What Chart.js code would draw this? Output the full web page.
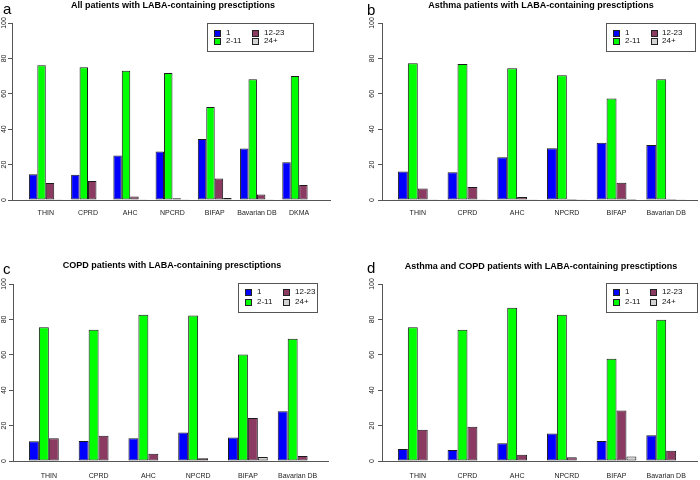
<!DOCTYPE html>
<html><head><meta charset="utf-8">
<script src="https://cdn.jsdelivr.net/npm/chart.js@4"></script>
<style>
body{margin:0;width:700px;height:480px;background:#fff;position:relative;overflow:hidden;font-family:'Liberation Sans',Arial,sans-serif}
canvas{position:absolute}
.t{position:absolute;font-weight:bold;font-size:9px;line-height:11px;white-space:nowrap;transform:translateX(-50%);color:#000}
.l{position:absolute;font-size:15px;line-height:15px;color:#000}
</style></head><body>
<canvas id="ca" width="350" height="240" style="left:0;top:0"></canvas>
<canvas id="cb" width="350" height="240" style="left:350px;top:0"></canvas>
<canvas id="cc" width="350" height="240" style="left:0;top:240px"></canvas>
<canvas id="cd" width="350" height="240" style="left:350px;top:240px"></canvas>
<div class="l" style="left:3px;top:1px">a</div>
<div class="l" style="left:367px;top:2px">b</div>
<div class="l" style="left:3px;top:261px">c</div>
<div class="l" style="left:367px;top:260px">d</div>
<div class="t" style="left:173px;top:0px">All patients with LABA-containing presctiptions</div>
<div class="t" style="left:541px;top:0px">Asthma patients with LABA-containing presctiptions</div>
<div class="t" style="left:172px;top:260px">COPD patients with LABA-containing presctiptions</div>
<div class="t" style="left:541px;top:261px">Asthma and COPD patients with LABA-containing presctiptions</div>
<script>
const seriesNames = ['1', '2-11', '12-23', '24+'];
const catsA = ['THIN', 'CPRD', 'AHC', 'NPCRD', 'BIFAP', 'Bavarian DB', 'DKMA'];
const catsBCD = ['THIN', 'CPRD', 'AHC', 'NPCRD', 'BIFAP', 'Bavarian DB'];
const yTicks = [0, 20, 40, 60, 80, 100];

// a: All patients
const a1 = [14.6, 14.3, 25.2, 27.4, 34.4, 29.1, 21.3];
const a2 = [76.2, 75.0, 73.0, 71.8, 52.6, 68.2, 70.1];
const a3 = [9.6, 10.7, 2.0, 1.0, 12.2, 3.1, 8.5];
const a4 = [0.4, 0.3, 0.4, 0.1, 1.1, 0.1, 0.3];
// b: Asthma patients
const b1 = [16.1, 15.7, 24.1, 29.2, 32.4, 31.1];
const b2 = [77.3, 76.9, 74.5, 70.5, 57.3, 68.2];
const b3 = [6.5, 7.4, 1.7, 0.6, 9.8, 0.6];
const b4 = [0.1, 0.1, 0.1, 0.1, 0.5, 0.1];
// c: COPD patients
const c1 = [11.1, 11.3, 12.8, 16.1, 13.3, 28.1];
const c2 = [75.6, 74.1, 82.6, 82.2, 60.1, 69.0];
const c3 = [12.8, 14.3, 4.1, 1.5, 24.3, 2.8];
const c4 = [0, 0, 0, 0, 2.2, 0];
// d: Asthma and COPD patients
const d1 = [6.8, 6.2, 10.0, 15.5, 11.3, 14.5];
const d2 = [75.6, 74.1, 86.6, 82.6, 57.8, 79.8];
const d3 = [17.7, 19.4, 3.6, 2.1, 28.5, 5.8];
const d4 = [0, 0, 0, 0, 2.5, 0];

const colors = ['#0000FF', '#00FF00', '#8B3A62', '#D3D3D3'];

const legendPlugin = {
  id: 'rLegend',
  afterDraw(chart, args, o) {
    const ctx = chart.ctx;
    ctx.save();
    ctx.strokeStyle = '#555'; ctx.lineWidth = 1;
    ctx.strokeRect(o.x + 0.5, o.y + 0.5, o.w, o.h);
    ctx.font = '8px "Liberation Sans", Arial, sans-serif';
    ctx.textBaseline = 'middle'; ctx.textAlign = 'left';
    chart.data.datasets.forEach((ds, k) => {
      const col = Math.floor(k / 2), row = k % 2;
      const sx = o.sx[col], sy = o.ry[row] - 3;
      ctx.fillStyle = ds.backgroundColor;
      ctx.fillRect(sx, sy, 6, 6);
      ctx.strokeStyle = '#222';
      ctx.strokeRect(sx + 0.5, sy + 0.5, 6, 6);
      ctx.fillStyle = '#111';
      ctx.fillText(ds.label, o.tx[col], o.ry[row]);
    });
    ctx.restore();
  }
};

const panels = [
  {id: 'ca', cats: catsA, vals: [a1, a2, a3, a4], area: {l: 12, t: 23, r: 330, b: 200}, xmin: -0.8, xmax: 6.73, ypad: -1.8, xpad: 9,
   legend: {x: 207, y: 23, w: 106, h: 28, sx: [214, 252], tx: [226, 264], ry: [33, 41]}},
  {id: 'cb', cats: catsBCD, vals: [b1, b2, b3, b4], area: {l: 32, t: 23, r: 347, b: 200}, xmin: -0.72, xmax: 5.62, ypad: 0.4, xpad: 9,
   legend: {x: 256, y: 23, w: 89, h: 28, sx: [263, 301], tx: [275, 312], ry: [33, 41]}},
  {id: 'cc', cats: catsBCD, vals: [c1, c2, c3, c4], area: {l: 13, t: 44, r: 328, b: 221}, xmin: -0.72, xmax: 5.61, ypad: -0.8, xpad: 11,
   legend: {x: 238, y: 43, w: 79, h: 29, sx: [245, 283], tx: [257, 295], ry: [52, 62]}},
  {id: 'cd', cats: catsBCD, vals: [d1, d2, d3, d4], area: {l: 32, t: 44, r: 347, b: 221}, xmin: -0.72, xmax: 5.62, ypad: 0.4, xpad: 11,
   legend: {x: 256, y: 43, w: 91, h: 29, sx: [263, 300], tx: [275, 312], ry: [52, 62]}}
];

panels.forEach(p => {
  new Chart(document.getElementById(p.id), {
    type: 'bar',
    data: {
      datasets: seriesNames.map((n, k) => ({
        label: n,
        data: p.cats.map((c, i) => ({x: i, y: p.vals[k][i]})),
        backgroundColor: colors[k],
        borderColor: '#1a1a1a',
        borderWidth: 1,
        borderSkipped: false,
        categoryPercentage: 0.8,
        barPercentage: 1
      }))
    },
    options: {
      responsive: false, animation: false, devicePixelRatio: 1,
      layout: {padding: {left: 0, top: p.area.t, right: 350 - p.area.r, bottom: 0}},
      plugins: {legend: {display: false}, tooltip: {enabled: false}, rLegend: p.legend},
      scales: {
        x: {
          type: 'linear', min: p.xmin, max: p.xmax, offset: false,
          grid: {display: false, drawTicks: false, offset: false},
          border: {display: true, color: '#555'},
          ticks: {font: {size: 7, family: '"Liberation Sans", Arial'}, color: '#222', padding: p.xpad, maxRotation: 0, autoSkip: false,
                  callback: v => p.cats[v]},
          afterBuildTicks: s => { s.ticks = p.cats.map((c, i) => ({value: i})); },
          afterFit: s => { s.height = 240 - p.area.b; }
        },
        y: {
          min: 0, max: 100,
          afterBuildTicks: s => { s.ticks = yTicks.map(v => ({value: v})); },
          ticks: {minRotation: 90, maxRotation: 90, crossAlign: 'center', font: {size: 7, family: '"Liberation Sans", Arial'}, color: '#222', padding: p.ypad},
          grid: {drawOnChartArea: false, tickLength: 4, color: '#555'},
          border: {display: true, color: '#555'},
          afterFit: s => { s.width = p.area.l; }
        }
      }
    },
    plugins: [legendPlugin]
  });
});
</script>
</body></html>
